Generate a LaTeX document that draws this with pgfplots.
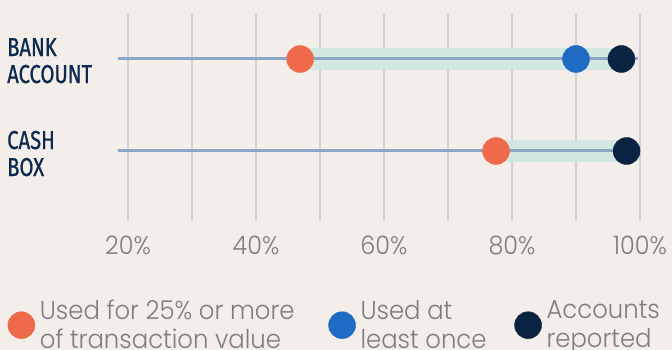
\documentclass[border=0pt]{standalone}
\usepackage{pgfplots}
\pgfplotsset{compat=1.18}
\usepackage{fontspec}
\setmainfont{Poppins}
\newfontfamily\lightfont{Poppins}[UprightFont={* Light}, FakeStretch=0.94]
\newfontfamily\condfont{Fira Sans}[FakeStretch=0.78, FakeBold=0.8]

\definecolor{paper}{HTML}{F3EEE9}
\definecolor{gridc}{HTML}{CDD2D9}
\definecolor{linec}{HTML}{8AA7C8}
\definecolor{bandc}{HTML}{CFE8E2}
\definecolor{share}{HTML}{EE6A4A}
\definecolor{once}{HTML}{1F6BC4}
\definecolor{report}{HTML}{0A2342}
\definecolor{labc}{HTML}{0D2A4E}
\definecolor{tickc}{HTML}{7E7E7E}

\begin{document}
\begin{tikzpicture}
\useasboundingbox (0,0) rectangle (672bp,350bp);
\clip (0,0) rectangle (672bp,350bp);
\fill[paper] (0,0) rectangle (672bp,350bp);
\begin{axis}[
  at={(0,0)}, anchor=south west,
  width=672bp, height=350bp, scale only axis,
  xmin=0, xmax=105, ymin=0, ymax=350,
  axis lines=none, clip=false,
  legend columns=3,
  legend cell align=left,
  legend style={
    at={(axis cs:1.2,50)}, anchor=north west,
    draw=none, fill=none, inner sep=0pt,
    font=\lightfont\fontsize{26}{29}\selectfont, text=tickc,
    nodes={align=left, inner xsep=5bp, inner ysep=0pt},
    /tikz/every even column/.append style={column sep=29bp},
  },
]
% vertical grid
\pgfplotsinvokeforeach{20,30,...,100}{
  \draw[gridc, line width=1.2bp] (axis cs:#1,129) -- (axis cs:#1,336);
}
% tick labels
\pgfplotsinvokeforeach{20,40,...,100}{
  \node[anchor=base, text=tickc, font=\lightfont\fontsize{25.5}{25.5}\selectfont, inner sep=0pt]
    at (axis cs:#1,96) {#1\%};
}
% ranges between the lowest and highest share
\addplot[bandc, line width=22bp, opacity=0.85, forget plot] coordinates {(46.9,291) (97.1,291)};
\addplot[bandc, line width=22bp, opacity=0.85, forget plot] coordinates {(77.5,199) (97.9,199)};
% row baselines
\addplot[linec, line width=3bp, forget plot] coordinates {(18.4,291) (99.7,291)};
\addplot[linec, line width=3bp, forget plot] coordinates {(18.4,199) (99.7,199)};
% points
\addplot[only marks, mark=*, mark size=13.5bp, share, mark options={draw=none, fill=share}]
  coordinates {(46.9,291) (77.5,199)};
\addlegendentry{Used for 25\% or more\\of transaction value}
\addplot[only marks, mark=*, mark size=13.5bp, once, mark options={draw=none, fill=once}]
  coordinates {(90,291)};
\addlegendentry{Used at\\least once\kern-6bp}
\addplot[only marks, mark=*, mark size=13.5bp, report, mark options={draw=none, fill=report}]
  coordinates {(97.1,291) (97.9,199)};
\addlegendentry{Accounts\\reported}
% category labels
\node[anchor=base west, inner sep=0pt, text=labc,
      font=\condfont\fontsize{26}{27}\selectfont] at (axis cs:1.1,294) {BANK};
\node[anchor=base west, inner sep=0pt, text=labc,
      font=\condfont\fontsize{26}{27}\selectfont] at (axis cs:1.1,267) {ACCOUNT};
\node[anchor=base west, inner sep=0pt, text=labc,
      font=\condfont\fontsize{26}{27}\selectfont] at (axis cs:1.1,201) {CASH};
\node[anchor=base west, inner sep=0pt, text=labc,
      font=\condfont\fontsize{26}{27}\selectfont] at (axis cs:1.1,174) {BOX};
\end{axis}
\end{tikzpicture}
\end{document}
